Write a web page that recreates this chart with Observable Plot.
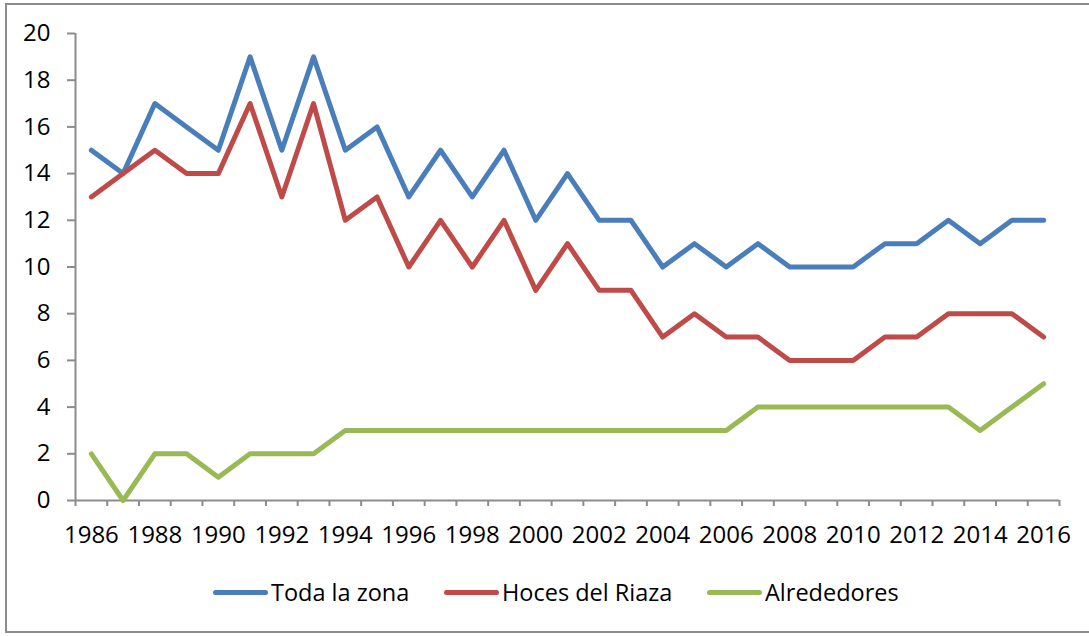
<!DOCTYPE html>
<html>
<head>
<meta charset="utf-8">
<script src="https://cdn.jsdelivr.net/npm/d3@7"></script>
<script src="https://cdn.jsdelivr.net/npm/@observablehq/plot@0.6"></script>
<style>
  html, body { margin: 0; padding: 0; background: #fff; }
  body { width: 1089px; height: 636px; overflow: hidden; font-family: "Open Sans", sans-serif; }
  #frame { position: absolute; left: 5px; top: 3px; width: 1100px; height: 626px; border: 2px solid #8c8c8c; box-sizing: content-box; }
  #chart { position: absolute; left: 0; top: 0; }
  #legend { position: absolute; left: 0; top: 0; width: 1089px; height: 636px; font-size: 23.5px; color: #000; }
  .item { position: absolute; top: 576px; height: 32px; display: flex; align-items: center; gap: 3px; white-space: nowrap; }
  .sw { width: 55px; height: 5px; border-radius: 3px; display: inline-block; }
</style>
</head>
<body>
<div id="frame"></div>
<div id="chart"></div>
<div id="legend"></div>
<script>
const years = d3.range(1986, 2017);
const seriesNames = ["Toda la zona", "Hoces del Riaza", "Alrededores"];
const seriesColors = ["#4a7ebb", "#be4b48", "#98b954"];
const todaLaZona = [15,14,17,16,15,19,15,19,15,16,13,15,13,15,12,14,12,12,10,11,10,11,10,10,10,11,11,12,11,12,12];
const hocesDelRiaza = [13,14,15,14,14,17,13,17,12,13,10,12,10,12,9,11,9,9,7,8,7,7,6,6,6,7,7,8,8,8,7];
const alrededores = [2,0,2,2,1,2,2,2,3,3,3,3,3,3,3,3,3,3,3,3,3,4,4,4,4,4,4,4,3,4,5];
const yTicks = [0,2,4,6,8,10,12,14,16,18,20];
const xLabelYears = [1986,1988,1990,1992,1994,1996,1998,2000,2002,2004,2006,2008,2010,2012,2014,2016];

const seriesValues = [todaLaZona, hocesDelRiaza, alrededores];
const rows = [];
seriesNames.forEach((name, i) => {
  years.forEach((yr, j) => rows.push({series: name, year: yr, value: seriesValues[i][j]}));
});
const boundaries = years.map(y => y - 0.5).concat([years[years.length - 1] + 0.5]);
const axisGray = "#8c8c8c";
const fs = 24;

const chart = Plot.plot({
  width: 1089,
  height: 540,
  marginTop: 33,
  marginBottom: 40,
  marginLeft: 75,
  marginRight: 30,
  style: {fontFamily: "'Open Sans', sans-serif", fontSize: fs + "px", color: "#000", background: "transparent", overflow: "visible"},
  x: {type: "linear", domain: [boundaries[0], boundaries[boundaries.length - 1]]},
  y: {domain: [0, 20]},
  color: {domain: seriesNames, range: seriesColors},
  marks: [
    Plot.ruleY([0], {stroke: axisGray, strokeWidth: 2}),
    Plot.ruleX([boundaries[0]], {stroke: axisGray, strokeWidth: 2}),
    Plot.axisY({ticks: yTicks, tickSize: 8, tickPadding: 17, stroke: axisGray, fill: "#000", strokeWidth: 2, fontSize: fs, label: null}),
    Plot.axisX({ticks: boundaries, tickSize: 6, tickFormat: () => "", stroke: axisGray, strokeWidth: 2, label: null}),
    Plot.axisX({ticks: xLabelYears, tickSize: 0, tickPadding: 25, tickFormat: d => String(d), fill: "#000", fontSize: fs, label: null}),
    Plot.lineY(rows, {x: "year", y: "value", z: "series", stroke: "series", strokeWidth: 5, strokeLinejoin: "round", strokeLinecap: "round"})
  ]
});
document.getElementById("chart").appendChild(chart);

const legendLeft = [213, 444, 707];
const legend = document.getElementById("legend");
seriesNames.forEach((name, i) => {
  const item = document.createElement("div");
  item.className = "item";
  item.style.left = legendLeft[i] + "px";
  const sw = document.createElement("span");
  sw.className = "sw";
  sw.style.background = seriesColors[i];
  const t = document.createElement("span");
  t.textContent = name;
  item.appendChild(sw);
  item.appendChild(t);
  legend.appendChild(item);
});
</script>
</body>
</html>
